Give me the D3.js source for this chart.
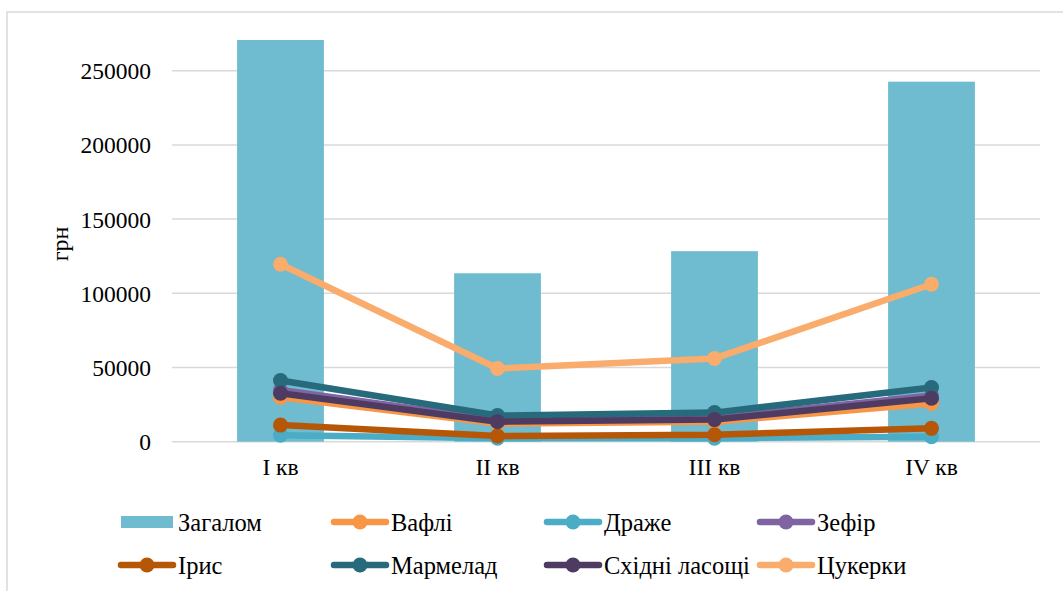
<!DOCTYPE html>
<html><head><meta charset="utf-8">
<script src="https://cdn.jsdelivr.net/npm/d3@7"></script>
<style>body{margin:0;background:#fff}</style>
</head><body>
<svg id="c" width="1063" height="591"></svg>
<script>
const categories = ["I кв","II кв","III кв","IV кв"];
const yTicks = [0,50000,100000,150000,200000,250000];
const totalName = "Загалом";
const totalValues = [270700,113500,128400,242600];
const seriesNames = ["Вафлі","Драже","Зефір","Ірис","Мармелад","Східні ласощі","Цукерки"];
const vafli = [29900,12200,13500,25700];
const drazhe = [4400,2400,2400,3300];
const zefir = [34800,14600,16000,31200];
const irys = [11200,3800,4700,9000];
const marmelad = [41200,17600,19600,36500];
const skhidni = [32600,13500,14900,29300];
const tsukerky = [119600,49300,56100,106100];
const seriesValues = [vafli,drazhe,zefir,irys,marmelad,skhidni,tsukerky];
const barColor = "#6FBBCF";
const lineColors = ["#F79646","#4BACC6","#8064A2","#B65708","#276A7C","#4D3B62","#F9AC6B"];
const FONT = '"Liberation Serif"';

const svg = d3.select("#c");
svg.append("rect").attr("x",7).attr("y",12).attr("width",1100).attr("height",640)
  .attr("fill","none").attr("stroke","#d9d9d9").attr("stroke-width",1.5);

const x = d3.scaleBand().domain(categories).range([172,1040]).paddingInner(0.6).paddingOuter(0.3);
const xp = d3.scalePoint().domain(categories).range([172,1040]).padding(0.5);
const y = d3.scaleLinear().domain([0,250000]).range([441.7,70.7]);

svg.append("g").selectAll("line").data(yTicks).join("line")
  .attr("x1",172).attr("x2",1040).attr("y1",d=>y(d)).attr("y2",d=>y(d))
  .attr("stroke","#d9d9d9").attr("stroke-width",1.5);

const yAxis = d3.axisLeft(y).tickValues(yTicks).tickSize(0).tickPadding(21).tickFormat(d=>String(d));
const gy = svg.append("g").attr("transform","translate(172,0)").call(yAxis);
gy.select(".domain").remove();
gy.selectAll("text").attr("font-size",23.5).attr("fill","#000").attr("dy","0.34em").style("font-family",FONT);

const xAxis = d3.axisBottom(x).tickSize(0).tickPadding(20);
const gx = svg.append("g").attr("transform","translate(0,441.7)").call(xAxis);
gx.select(".domain").remove();
gx.selectAll("text").attr("font-size",23.5).attr("fill","#000").attr("dy","0.58em").style("font-family",FONT);

svg.append("text").attr("transform","translate(68,244) rotate(-90)").attr("text-anchor","middle")
  .attr("font-size",24).style("font-family",FONT).text("грн");

svg.append("g").selectAll("rect").data(totalValues).join("rect")
  .attr("x",(d,i)=>x(categories[i])).attr("width",x.bandwidth())
  .attr("y",d=>y(d)).attr("height",d=>y(0)-y(d)).attr("fill",barColor);

const line = d3.line().x((d,i)=>xp(categories[i])).y(d=>y(d));
seriesValues.forEach((vals,s)=>{
  const g = svg.append("g");
  g.append("path").datum(vals).attr("d",line).attr("fill","none")
    .attr("stroke",lineColors[s]).attr("stroke-width",6.5).attr("stroke-linejoin","round");
  g.selectAll("circle").data(vals).join("circle")
    .attr("cx",(d,i)=>xp(categories[i])).attr("cy",d=>y(d)).attr("r",7.5).attr("fill",lineColors[s]);
});

const legendItems = [{name:totalName,type:"bar",color:barColor}]
  .concat(seriesNames.map((n,i)=>({name:n,type:"line",color:lineColors[i]})));
const colX = [119,332,545,758];
const rowY = [522,565];
legendItems.forEach((it,i)=>{
  const cx = colX[i%4], cy = rowY[Math.floor(i/4)];
  const g = svg.append("g").attr("transform",`translate(${cx},${cy})`);
  if(it.type==="bar"){
    g.append("rect").attr("x",2).attr("y",-6).attr("width",52).attr("height",12).attr("fill",it.color);
  } else {
    g.append("line").attr("x1",2).attr("x2",54).attr("y1",0).attr("y2",0)
      .attr("stroke",it.color).attr("stroke-width",6.5).attr("stroke-linecap","round");
    g.append("circle").attr("cx",28).attr("cy",0).attr("r",7.5).attr("fill",it.color);
  }
  g.append("text").attr("x",59).attr("y",9).attr("font-size",24.5).style("font-family",FONT).text(it.name);
});
</script>
</body></html>
